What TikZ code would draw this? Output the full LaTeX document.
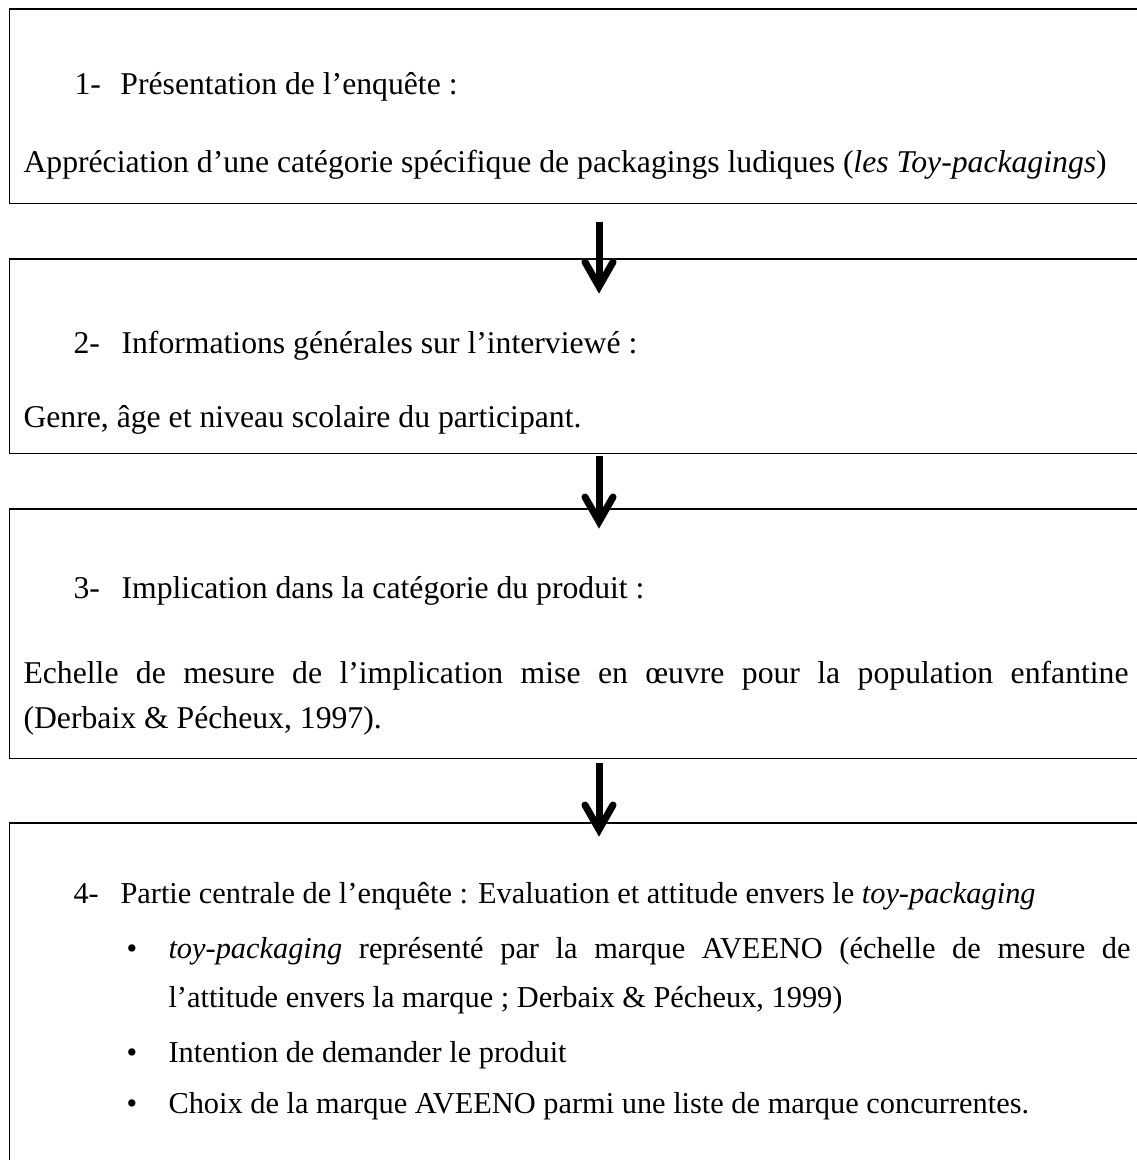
\documentclass[tikz,border=0pt]{standalone}
\usepackage{fontspec}
\setmainfont{Liberation Serif}
\usetikzlibrary{calc}
\begin{document}
\begin{tikzpicture}[x=0.3786pt,y=-0.3786pt,
  box/.style={draw, line width=0.57pt, inner sep=0pt, anchor=north west},
  txt/.style={anchor=base west, inner sep=0pt, font=\fontsize{12}{14}\selectfont},
  txtb/.style={anchor=base west, inner sep=0pt, font=\fontsize{11.5}{14}\selectfont},
  shaft/.style={line width=2.65pt, line cap=butt},
  arrowhd/.style={line width=2.65pt, line cap=round, line join=miter},
]
\path[use as bounding box] (0,0) rectangle (1137,1160);
\clip (0,0) rectangle (1137,1160);

% boxes
\node[box, minimum width=432.2pt, minimum height=73.6pt] (b1) at (8.5,8.3) {};
\node[box, minimum width=432.2pt, minimum height=73.6pt] (b2) at (8.5,258.3) {};
\node[box, minimum width=432.2pt, minimum height=94.35pt] (b3) at (8.5,508.3) {};
\node[box, minimum width=432.2pt, minimum height=151.4pt] (b4) at (8.5,822) {};

% box 1
\node[txt] (t1a) at (74,94) {\makebox[17.4pt][l]{1-}Présentation de l’enquête :};
\node[txt] (t1b) at (23,172) {Appréciation d’une catégorie spécifique de packagings ludiques (\textit{les Toy-packagings})};

% box 2
\node[txt] (t2a) at (73,353) {\makebox[18.2pt][l]{2-}Informations générales sur l’interviewé :};
\node[txt] (t2b) at (23,427) {Genre, âge et niveau scolaire du participant.};

% box 3
\node[txt] (t3a) at (73,598) {\makebox[18.2pt][l]{3-}Implication dans la catégorie du produit :};
\node[txt] (t3b) at (23,683) {\makebox[418.35pt][s]{Echelle de mesure de l’implication mise en œuvre pour la population enfantine}};
\node[txt] (t3c) at (23,728) {(Derbaix \& Pécheux, 1997).};

% box 4
\node[txtb] (t4a) at (73,903) {\makebox[17.8pt][l]{4-}Partie centrale de l’enquête : Evaluation et attitude envers le \textit{toy-packaging}};
\node[txtb] (t4b) at (126,958) {\makebox[15.9pt][l]{•}\makebox[364.2pt][s]{\textit{toy-packaging} représenté par la marque AVEENO (échelle de mesure de}};
\node[txtb] (t4c) at (168,1007) {l’attitude envers la marque ; Derbaix \& Pécheux, 1999)};
\node[txtb] (t4d) at (126,1062) {\makebox[15.9pt][l]{•}Intention de demander le produit};
\node[txtb] (t4e) at (126,1113) {\makebox[15.9pt][l]{•}Choix de la marque AVEENO parmi une liste de marque concurrentes.};

% arrows
\coordinate (a1s) at (599,221.7); \coordinate (a1e) at (599,295);
\coordinate (a2s) at (599,456);   \coordinate (a2e) at (599,530);
\coordinate (a3s) at (599,762.7); \coordinate (a3e) at (599,838);
\foreach \s/\e in {a1s/a1e, a2s/a2e, a3s/a3e}{
  \begin{scope}[shift={(1.2,1.8)}, black!22]
    \draw[shaft] (\s) -- ($(\e)+(0,-9)$);
    \draw[arrowhd] ($(\e)+(-14,-33)$) -- ($(\e)+(0,-8.5)$) -- ($(\e)+(14,-33)$);
  \end{scope}
  \draw[shaft] (\s) -- ($(\e)+(0,-9)$);
  \draw[arrowhd] ($(\e)+(-14,-33)$) -- ($(\e)+(0,-8.5)$) -- ($(\e)+(14,-33)$);
}
\end{tikzpicture}
\end{document}
